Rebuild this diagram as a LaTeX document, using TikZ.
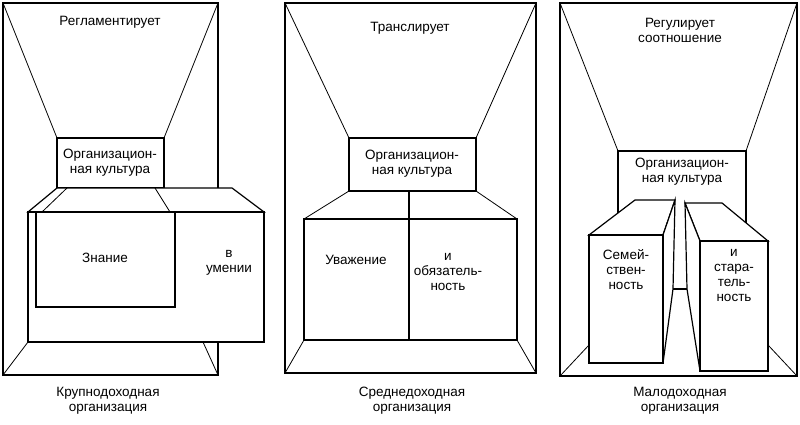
\documentclass[tikz,border=0pt]{standalone}
\usepackage{fontspec}
\setmainfont{Liberation Sans}
\usepackage{tikz}
\usetikzlibrary{positioning}
\tikzset{
    frame/.style={
        draw=black,
        line width=1.1pt
    },
    edge/.style={
        draw=black,
        line width=0.8pt
    },
    block/.style={
        draw=black,
        line width=1.2pt,
        fill=white
    },
    label/.style={
        align=center,
        font=\fontsize{13.5}{15}\selectfont,
        inner sep=0pt
    }
}
\begin{document}
\begin{tikzpicture}[x=1pt, y=-1pt]
\useasboundingbox (0,0) rectangle (800,425);

% Large-income organisation
\draw[frame] (3,3) rectangle (218,375);
\draw[edge] (3,3) -- (57,138) (218,3) -- (164,138);
\draw[block] (57,138) rectangle (164,188);
\draw[block] (28,212) -- (57,188) -- (232,188) -- (264,212) -- cycle;
\draw[edge] (42,212) -- (67,188) (170,212) -- (155,188);
\draw[block] (28,212) rectangle (264,342);
\draw[block] (36,212) rectangle (175,307);
\draw[edge] (28,342) -- (3,375) (203,342) -- (218,375);
\node[label] (reg1) at (110,22) {Регламентирует};
\node[label] (cult1) at (110,163) {Организацион-\\ная культура};
\node[label] (know) at (105,258) {Знание};
\node[label] (skill) at (229,263) {в\\умении};
\node[label] (cap1) at (108,401) {Крупнодоходная\\организация};

% Medium-income organisation
\draw[frame] (285,3) rectangle (536,373);
\draw[edge] (285,3) -- (349,138) (536,3) -- (476,138);
\draw[block] (349,138) rectangle (476,191);
\draw[edge] (349,191) -- (304,219) (476,191) -- (517,219);
\draw[block] (304,219) rectangle (517,340);
\draw[block] (409,191) -- (409,340);
\draw[edge] (304,340) -- (285,373) (517,340) -- (536,373);
\node[label] (reg2) at (410,28) {Транслирует};
\node[label] (cult2) at (412,164) {Организацион-\\ная культура};
\node[label] (resp) at (356,260) {Уважение};
\node[label] (duty) at (448,272) {и\\обязатель-\\ность};
\node[label] (cap2) at (412,401) {Среднедоходная\\организация};

% Small-income organisation
\draw[frame] (560,3) rectangle (797,376);
\draw[edge] (560,3) -- (618,151) (797,3) -- (746,151);
\draw[block] (618,151) rectangle (746,289);
\draw[block] (589,235) -- (635,200) -- (675,200) -- (663,235) -- cycle;
\draw[block] (663,235) -- (675,200) -- (673,289) -- (663,363) -- cycle;
\draw[block] (589,235) rectangle (663,363);
\draw[block] (700,241) -- (685,203) -- (722,203) -- (768,241) -- cycle;
\draw[block] (700,241) -- (685,203) -- (687,289) -- (700,371) -- cycle;
\draw[block] (700,241) rectangle (768,371);
\draw[edge] (560,376) -- (589,345) (797,376) -- (768,345);
\node[label] (reg3) at (680,30) {Регулирует\\соотношение};
\node[label] (cult3) at (682,172) {Организацион-\\ная культура};
\node[label] (family) at (626,270) {Семей-\\ствен-\\ность};
\node[label] (zeal) at (734,275) {и\\стара-\\тель-\\ность};
\node[label] (cap3) at (680,401) {Малодоходная\\организация};
\end{tikzpicture}
\end{document}
